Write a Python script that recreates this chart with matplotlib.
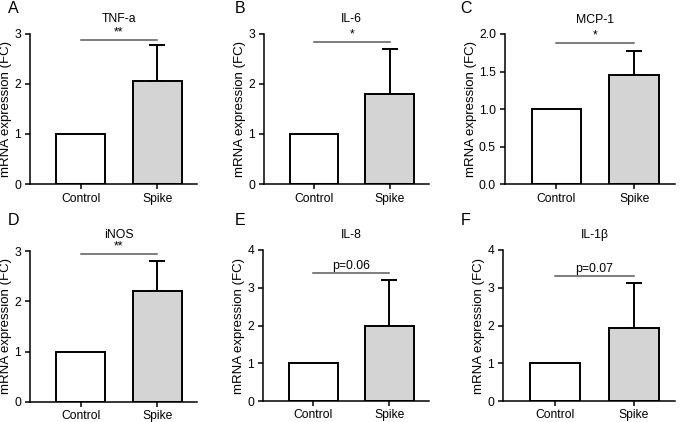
import matplotlib.pyplot as plt
from matplotlib.transforms import blended_transform_factory

plt.rcParams['font.family'] = ['Liberation Sans', 'DejaVu Sans']

groups = ['Control', 'Spike']
letters = ['A', 'B', 'C', 'D', 'E', 'F']
genes = ['TNF-a', 'IL-6', 'MCP-1', 'iNOS', 'IL-8', 'IL-1β']
control_vals = [1.0, 1.0, 1.0, 1.0, 1.0, 1.0]
spike_vals = [2.07, 1.80, 1.46, 2.21, 2.00, 1.94]
spike_err = [0.71, 0.90, 0.32, 0.59, 1.20, 1.18]
sig_labels = ['**', '*', '*', '**', 'p=0.06', 'p=0.07']
sig_heights = [2.88, 2.84, 1.88, 2.95, 3.38, 3.30]
y_max = [3, 3, 2, 3, 4, 4]
y_ticks = [[0, 1, 2, 3], [0, 1, 2, 3], [0.0, 0.5, 1.0, 1.5, 2.0],
           [0, 1, 2, 3], [0, 1, 2, 3, 4], [0, 1, 2, 3, 4]]

W, H = 683, 422
fig = plt.figure(figsize=(W / 100, H / 100), dpi=100)

# axes boxes in pixels: left, right, top, bottom
boxes = [(30, 197, 34, 184), (264, 429, 34, 184), (505, 675, 34, 184),
         (30, 197, 251, 402), (263, 429, 250, 401), (503, 675, 250, 401)]
# panel letter (left, baseline) and title baseline, in pixels
letter_pos = [(8, 13), (235, 13), (460, 13), (8, 225), (235, 225), (461, 225)]
title_base = [22.5, 22.5, 23, 238.3, 237.7, 238]

for i in range(6):
    l, r, t, b = boxes[i]
    ax = fig.add_axes([l / W, 1 - b / H, (r - l) / W, (b - t) / H])
    x = [0, 1]
    ax.bar(x, [control_vals[i], spike_vals[i]], width=0.64,
           color=['white', '#d4d4d4'], edgecolor='black', linewidth=1.4, zorder=2)
    ax.errorbar([1], [spike_vals[i]], yerr=[[0], [spike_err[i]]], fmt='none',
                ecolor='black', elinewidth=1.4, capsize=5.8, capthick=1.4, zorder=1)
    ax.set_xlim(-0.66, 1.52)
    ax.set_ylim(0, y_max[i])
    ax.set_yticks(y_ticks[i])
    if y_max[i] == 2:
        ax.set_yticklabels([f'{v:.1f}' for v in y_ticks[i]])
    ax.set_xticks(x)
    ax.set_xticklabels(groups)
    ax.spines['top'].set_visible(False)
    ax.spines['right'].set_visible(False)
    ax.spines['left'].set_linewidth(1.1)
    ax.spines['bottom'].set_linewidth(1.1)
    ax.tick_params(axis='both', labelsize=8.7, width=1.1, length=3.5, color='black')
    ax.tick_params(axis='y', pad=3)
    ax.tick_params(axis='x', pad=3.2 if i < 3 else 2)
    ax.set_ylabel('mRNA expression (FC)', fontsize=9.5, labelpad=1.5)

    # significance bar
    ax.plot([0, 1], [sig_heights[i], sig_heights[i]], color='#5a5a5a',
            linewidth=1.1, clip_on=False)
    ax.text(0.5, sig_heights[i] + y_max[i] * 0.008, sig_labels[i],
            ha='center', va='bottom', fontsize=8.8)

    trans = blended_transform_factory(ax.transData, fig.transFigure)
    ax.text(0.5, 1 - title_base[i] / H, genes[i], transform=trans,
            ha='center', va='baseline', fontsize=8.8)

    lx, ly = letter_pos[i]
    fig.text(lx / W, 1 - ly / H, letters[i], fontsize=11.5, ha='left',
             va='baseline')

fig.savefig('out.png', dpi=100)
